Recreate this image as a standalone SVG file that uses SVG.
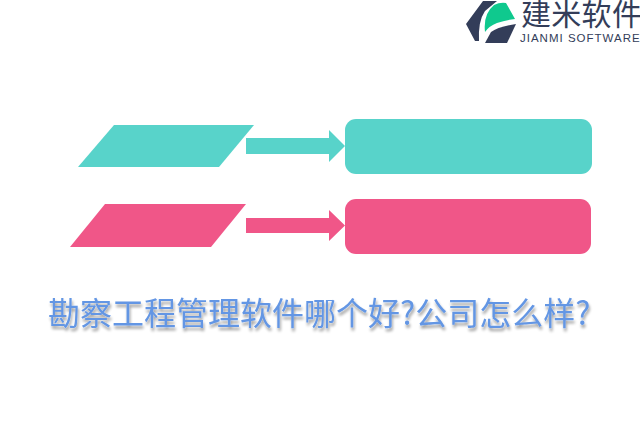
<svg xmlns="http://www.w3.org/2000/svg" width="640" height="427" viewBox="0 0 640 427">
<defs>
<filter id="shadow" x="-5%" y="-30%" width="110%" height="170%"><feGaussianBlur in="SourceAlpha" stdDeviation="1.5"/><feOffset dx="1" dy="3"/><feComponentTransfer><feFuncA type="linear" slope="0.4"/></feComponentTransfer><feMerge><feMergeNode/><feMergeNode in="SourceGraphic"/></feMerge></filter>
</defs>
<style>
.teal{fill:#58d3ca}
.pink{fill:#f05688}
.dark{fill:#333d59}
text{font-family:"Noto Sans CJK SC","Liberation Sans",sans-serif}
</style>
<rect width="640" height="427" fill="#fff"/>
<g id="logo">
<path class="dark" d="M483 1H497L485 11Q478 21 479 41L475 41L466 24Z"/>
<path d="M485 32Q483 14 494 5Q500 2 506 3L515 19Q505 20 497 23Q489 26 485 32Z" fill="#0fc98e"/>
<path class="dark" d="M485 43L491 32Q498 27 516 24L507 43Z"/>
<text x="521" y="25" font-size="30" letter-spacing="0.3" fill="#333d59">建米软件</text>
<text x="520" y="42" font-size="11.5" letter-spacing="1" fill="#333d59" style="font-family:'Liberation Sans',sans-serif">JIANMI SOFTWARE</text>
</g>
<g id="node-teal-input"><polygon class="teal" points="114,125 254,125 219,167 78,167"/></g>
<g id="node-teal-output"><rect class="teal" x="345" y="119" width="247" height="55" rx="11"/></g>
<g id="node-pink-input"><polygon class="pink" points="105,204 246,204 211,247 70,247"/></g>
<g id="node-pink-output"><rect class="pink" x="345" y="199" width="246" height="55" rx="11"/></g>
<g id="connectors">
<polygon class="teal" points="246,138 329,138 329,130 345,146 329,162 329,154 246,154"/>
<polygon class="pink" points="246,218 329,218 329,210 345,225.500 329,241 329,233 246,233"/>
</g>
<g id="title"><text x="48" y="325" font-size="32" fill="#6396e4" filter="url(#shadow)">勘察工程管理软件哪个好?公司怎么样?</text></g>
</svg>
